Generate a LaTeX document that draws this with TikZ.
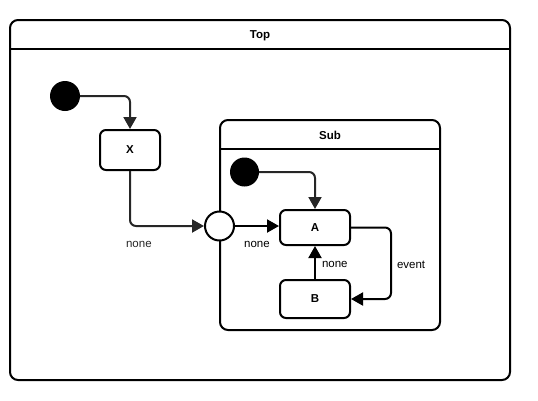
\documentclass[tikz,border=0pt]{standalone}
\usepackage{fontspec}
\setmainfont{Liberation Sans}
\usetikzlibrary{arrows.meta,positioning}

\begin{document}
\begin{tikzpicture}[x=1pt,y=-1pt,
    font=\fontsize{11.5}{13}\selectfont,
    every text node part/.style={align=center},
    box/.style = {draw, line width=2pt, rounded corners=8pt},
    st/.style = {draw, line width=2pt, rounded corners=6pt, fill=white, font=\fontsize{11.5}{13}\selectfont\bfseries},
    init/.style = {circle, fill=black, minimum size=30pt, inner sep=0pt},
    junc/.style = {circle, draw, line width=2pt, fill=white, minimum size=29pt, inner sep=0pt},
    tr/.style = {line width=2pt, rounded corners=6pt, -{Triangle[length=12pt,width=13pt]}},
    el/.style = {inner sep=2pt}
  ]
  \useasboundingbox (0,0) rectangle (538,400);

  % containers
  \node[box, minimum width=500pt, minimum height=360pt] (top) at (260,200) {};
  \draw[line width=2pt] ([yshift=-30pt]top.north west) -- ([yshift=-30pt]top.north east);
  \node[font=\fontsize{11.5}{13}\selectfont\bfseries] (toplbl) at ([yshift=-17pt]top.north) {Top};

  \node[box, minimum width=220pt, minimum height=210pt] (sub) at (330,225) {};
  \draw[line width=2pt] ([yshift=-30pt]sub.north west) -- ([yshift=-30pt]sub.north east);
  \node[font=\fontsize{11.5}{13}\selectfont\bfseries] (sublbl) at ([yshift=-16pt]sub.north) {Sub};

  % states
  \node[init]                                          (i_1) at (65,96)    {};
  \node[st, minimum width=60pt, minimum height=40pt]   (s_x) at (130,150)  {X};
  \node[junc]                                          (j)   at (219.5,226) {};
  \node[init, minimum size=29pt]                       (i_2) at (244.5,172) {};
  \node[st, minimum width=70pt, minimum height=35pt]   (s_a) at (315,227.5) {A};
  \node[st, minimum width=70pt, minimum height=38pt]   (s_b) at (315,299)  {B};

  % transitions
  \draw[tr, black!85] (i_1) -| (s_x);
  \draw[tr, black!85] (s_x) |- node[el, pos=0.56, below=12pt] {none} (j);
  \draw[tr, black!85] (i_2) -| (s_a);
  \draw[tr] (j.east) -- node[el, below=12pt] {none} (j.east -| s_a.west);
  \draw[tr] (s_a.east) -- ++(40,0) |- node[el, pos=0.26, right=3pt] {event} (s_b.east);
  \draw[tr] (s_b) -- node[el, pos=0.45, right=4pt] {none} (s_a);
\end{tikzpicture}
\end{document}
